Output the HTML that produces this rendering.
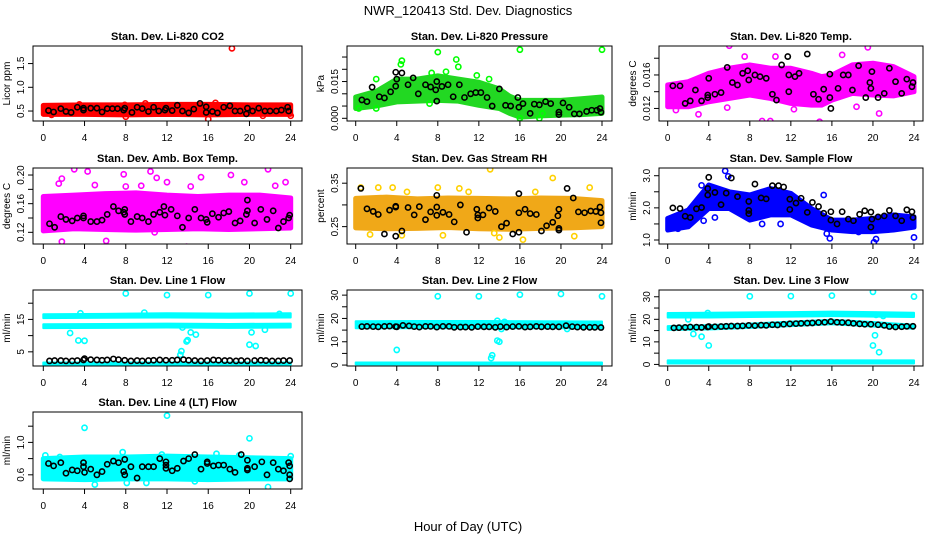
<!DOCTYPE html>
<html><head><meta charset="utf-8"><style>
html,body{margin:0;padding:0;background:#fff;}
svg{display:block;font-family:"Liberation Sans",Arial,sans-serif;}
</style></head><body>
<svg id="chart" width="936" height="540" viewBox="0 0 936 540" xmlns="http://www.w3.org/2000/svg">
<rect width="936" height="540" fill="#fff"/>
<text x="468" y="15" text-anchor="middle" font-size="13">NWR_120413 Std. Dev. Diagnostics</text>
<text x="468" y="531" text-anchor="middle" font-size="13">Hour of Day (UTC)</text>
</svg>
<script>
// ---- data arrays (hour, value) ----
const xTicks = [0,4,8,12,16,20,24];

const co2BandHours = [0,4,8,12,16,20,24];
const co2BandLo = [0.43,0.43,0.42,0.43,0.42,0.43,0.43];
const co2BandHi = [0.62,0.63,0.63,0.64,0.64,0.63,0.63];
const co2Extra = [[18.3,1.82],[16,0.33],[24,0.4],[9.9,0.66],[16.7,0.67],[3.5,0.64],[7.9,0.63],[8,0.38],[21.3,0.4],[0.8,0.42]];
const co2Black = [[0.5,0.51],[1,0.48],[1.7,0.55],[2.2,0.49],[2.7,0.47],[3.3,0.58],[3.9,0.56],[3.9,0.52],[4.6,0.56],[5.2,0.56],[5.7,0.48],[6.2,0.55],[6.7,0.55],[7.2,0.55],[7.8,0.52],[7.9,0.56],[8.6,0.47],[9.1,0.58],[9.6,0.55],[10.2,0.49],[10.7,0.58],[11.2,0.5],[11.8,0.52],[11.9,0.56],[12.5,0.51],[13,0.62],[13.5,0.5],[14.1,0.46],[14.6,0.54],[15.2,0.66],[15.8,0.59],[15.8,0.47],[16.4,0.49],[16.9,0.46],[17.5,0.58],[18.1,0.61],[18.6,0.5],[19.1,0.5],[19.7,0.44],[19.8,0.56],[20.3,0.5],[20.9,0.56],[21.5,0.5],[22,0.5],[22.6,0.5],[23.1,0.52],[23.7,0.58],[23.8,0.5]];

const presBandHours = [0,2,4,6,8,10,12,14,15,16,18,20,22,24];
const presBandLo = [0.004,0.005,0.0067,0.007,0.0073,0.007,0.0053,0.004,0.002,0.0005,0.001,0.0013,0.0015,0.002];
const presBandHi = [0.0087,0.011,0.016,0.016,0.0173,0.016,0.0147,0.012,0.009,0.0073,0.0073,0.0073,0.008,0.0087];
const presExtra = [[8,0.027],[16,0.028],[24,0.028],[4.5,0.0235],[9.8,0.024],[10,0.021],[4.4,0.022],[8.8,0.019],[7.4,0.0185],[11.8,0.0175],[2,0.016],[13,0.016],[2,0.004],[7.2,0.006],[16,0],[17.9,0],[18.2,0.002],[0.3,0.004]];
const presBlack = [[0.6,0.0075],[1.1,0.0068],[1.6,0.0127],[2.3,0.0088],[2.8,0.0083],[3.4,0.0108],[3.9,0.0131],[3.9,0.0188],[4.0,0.016],[4.5,0.0185],[5.1,0.0137],[5.6,0.0165],[6.1,0.01],[6.8,0.0137],[7.3,0.0128],[7.8,0.0116],[7.9,0.015],[7.9,0.007],[8.4,0.013],[9.0,0.0137],[9.5,0.0088],[10.1,0.0137],[10.6,0.0085],[11.2,0.01],[11.7,0.0105],[12.2,0.0105],[12.8,0.0085],[13.3,0.005],[14,0.012],[14.6,0.0053],[15.1,0.005],[15.8,0.0085],[15.9,0.0045],[16.3,0.006],[17,0.002],[17.4,0.0058],[17.9,0.0055],[18.5,0.0068],[19,0.006],[19.8,0.0025],[19.8,0.0015],[20.2,0.0063],[20.8,0.0045],[21.3,0.0018],[21.8,0.0018],[22.5,0.0028],[23,0.0033],[23.5,0.0033],[23.8,0.004],[23.9,0.0025]];

const tempBandHours = [0,2,4,6,8,10,12,14,15,16,18,20,22,24];
const tempBandLo = [0.0122,0.0122,0.0128,0.0132,0.0136,0.0132,0.0126,0.0124,0.0124,0.013,0.0138,0.0136,0.0135,0.014];
const tempBandHi = [0.0148,0.0152,0.0162,0.0168,0.0172,0.0168,0.0168,0.0162,0.0158,0.016,0.0172,0.0174,0.017,0.0158];
const tempExtra = [[6,0.0195],[19.5,0.0193],[9.2,0.0105],[10,0.0105],[14.8,0.0104],[20.6,0.0114],[5.8,0.0121],[3,0.0113],[10.5,0.0182],[7.5,0.0182],[17,0.0184],[0.8,0.0118],[12.3,0.0119],[18.4,0.0122]];
const tempBlack = [[0.5,0.0147],[1.2,0.0147],[1.7,0.0126],[2.2,0.0129],[2.7,0.0142],[3.3,0.0129],[3.9,0.0133],[3.9,0.0136],[4.0,0.0156],[4.6,0.0137],[5.2,0.0139],[5.8,0.0169],[6.3,0.0151],[6.8,0.0148],[7.3,0.0162],[7.8,0.0165],[7.9,0.0154],[8.5,0.016],[9,0.0158],[9.6,0.0156],[10.2,0.0137],[10.6,0.013],[11.1,0.0172],[11.7,0.0182],[11.8,0.016],[11.8,0.014],[12.4,0.0158],[12.8,0.0162],[13.6,0.0185],[14.2,0.0137],[14.7,0.0131],[15.2,0.0143],[15.8,0.0133],[15.8,0.0161],[15.9,0.012],[16.6,0.0144],[17.1,0.016],[17.6,0.016],[18,0.0142],[18.6,0.0171],[19.3,0.0133],[19.7,0.0151],[19.8,0.0144],[19.9,0.0164],[20.5,0.0133],[21.1,0.0138],[21.6,0.0168],[22.2,0.0152],[22.8,0.0138],[23.3,0.0155],[23.8,0.0146],[23.9,0.0151]];

const ambBandHours = [0,3,6,9,12,15,18,21,24];
const ambBandLo = [0.122,0.125,0.124,0.123,0.124,0.125,0.124,0.125,0.126];
const ambBandHi = [0.17,0.172,0.174,0.175,0.172,0.17,0.172,0.172,0.168];
const ambExtra = [[3,0.208],[4.3,0.205],[7.8,0.201],[10.4,0.205],[11,0.196],[15.3,0.197],[21.8,0.208],[18.2,0.2],[1.8,0.195],[13.9,0.1],[1.8,0.107],[6.1,0.108],[10.8,0.12],[17.9,0.128],[23.5,0.19],[8,0.184],[12,0.19],[1.5,0.188],[5,0.186],[9.5,0.185],[14.3,0.184],[19.5,0.19],[22.5,0.185]];
const ambBlack = [[0.6,0.132],[1.1,0.127],[1.7,0.142],[2.2,0.138],[2.8,0.136],[3.3,0.14],[3.9,0.143],[3.9,0.14],[4.6,0.135],[5.2,0.135],[5.7,0.137],[6.2,0.145],[6.8,0.156],[7.3,0.15],[7.8,0.148],[7.9,0.152],[7.9,0.145],[8.5,0.135],[9.1,0.142],[9.6,0.14],[10.2,0.135],[10.7,0.145],[11.3,0.148],[11.7,0.156],[11.8,0.144],[12.4,0.152],[13,0.143],[13.5,0.127],[14.1,0.14],[14.7,0.152],[15.3,0.14],[15.8,0.138],[15.9,0.134],[16.4,0.146],[17,0.141],[17.5,0.147],[18,0.149],[18.6,0.133],[19.1,0.136],[19.8,0.165],[19.8,0.15],[19.7,0.145],[20.5,0.133],[21.1,0.152],[21.7,0.138],[22.3,0.15],[22.8,0.126],[23.3,0.135],[23.8,0.14],[23.9,0.144]];

const rhBandHours = [0,3,6,9,12,15,18,21,24];
const rhBandLo = [0.247,0.245,0.246,0.248,0.245,0.244,0.246,0.247,0.25];
const rhBandHi = [0.315,0.318,0.314,0.316,0.315,0.314,0.316,0.315,0.31];
const rhExtra = [[13.1,0.382],[19.2,0.362],[0.5,0.34],[2.2,0.34],[8,0.34],[10.1,0.338],[3.6,0.34],[22.8,0.34],[1.4,0.232],[4.5,0.23],[8.5,0.23],[13.5,0.235],[16.3,0.22],[21.3,0.228],[14,0.225],[5,0.33],[11,0.33],[17.5,0.33]];
const rhBlack = [[0.5,0.338],[1.1,0.291],[1.7,0.285],[2.2,0.278],[2.8,0.233],[3.3,0.288],[3.9,0.297],[3.9,0.295],[3.9,0.228],[4.5,0.24],[5.1,0.294],[5.7,0.277],[6.2,0.296],[6.8,0.266],[7.3,0.284],[7.9,0.295],[7.9,0.322],[7.9,0.276],[8.5,0.283],[9.1,0.278],[9.6,0.261],[10.2,0.3],[10.8,0.237],[11.8,0.29],[11.9,0.27],[11.9,0.277],[12.4,0.277],[13,0.293],[13.6,0.285],[14.2,0.25],[14.7,0.258],[15.3,0.233],[15.9,0.282],[15.9,0.237],[15.9,0.326],[16.5,0.29],[17,0.28],[17.6,0.278],[18.1,0.24],[18.6,0.252],[19.2,0.26],[19.7,0.275],[19.8,0.29],[19.8,0.246],[19.8,0.242],[20.6,0.338],[21.2,0.316],[21.7,0.284],[22.3,0.282],[22.9,0.286],[23.4,0.285],[23.8,0.295],[23.9,0.282],[23.9,0.259]];

const flowBandHours = [0,2,4,6,8,10,12,14,16,18,20,22,24];
const flowBandLo = [1.31,1.41,1.98,1.98,1.62,1.78,1.78,1.47,1.31,1.26,1.26,1.31,1.4];
const flowBandHi = [1.67,1.93,2.71,2.5,2.4,2.6,2.45,1.98,1.62,1.62,1.67,1.78,1.72];
const flowExtra = [[5.6,3.15],[5.9,2.98],[20.1,0.93],[20.3,1.03],[24,1.08],[15.8,1.05],[15.5,1.2],[3.5,1.6],[15.2,2.4],[3.3,2.7],[9.2,1.5],[1,1.35],[18.6,1.25],[4.6,1.7],[11,1.5]];
const flowBlack = [[0.5,2],[1.2,1.98],[1.7,1.74],[2.2,1.7],[2.8,1.97],[3.3,2.01],[3.9,2.6],[3.9,2.4],[4,2.95],[4.6,2.48],[5.2,2.1],[5.7,2.46],[6.2,2.93],[6.8,2.35],[7.9,2.2],[7.9,1.92],[7.9,1.82],[8.5,2.74],[9.1,2.31],[9.6,2.28],[10.2,2.69],[10.8,2.69],[11.3,2.65],[11.9,2.27],[11.9,1.95],[12.5,2.15],[13,2.3],[13.6,1.86],[14.1,2.17],[14.7,2.04],[15.2,1.83],[15.9,1.88],[15.9,1.62],[16.5,1.5],[17,1.88],[17.6,1.65],[18.1,1.6],[18.7,1.8],[19.2,1.91],[19.8,1.87],[19.8,1.4],[19.9,1.65],[20.5,1.72],[21.1,1.75],[21.6,1.92],[22.2,1.75],[22.8,1.6],[23.3,1.94],[23.8,1.88],[23.9,1.7]];

const lineHours = [0.6,1.1,1.7,2.2,2.8,3.3,3.9,4.0,4.6,5.2,5.7,6.2,6.8,7.3,7.9,8.5,9.1,9.6,10.2,10.7,11.3,11.9,12.5,13,13.6,14.1,14.7,15.3,15.9,16.5,17,17.6,18.1,18.7,19.2,19.8,20.5,21.1,21.6,22.2,22.8,23.3,23.9];

const l1BandHours = [0,6,12,18,24];
const l1UpLo = [15.4,15.5,15.6,15.5,15.6];
const l1UpHi = [16.6,16.7,16.9,16.8,16.9];
const l1MidLo = [12.3,12.4,12.5,12.4,12.5];
const l1MidHi = [13.5,13.6,13.7,13.6,13.7];
const l1LowLo = [1.0,1.0,1.0,1.0,1.0];
const l1LowHi = [1.7,1.7,1.7,1.7,1.7];
const l1Extra = [[8,23],[12,22.5],[16,22.5],[20,23],[24,23],[3.6,16.9],[4.0,8.4],[3.4,8.5],[2.6,10.8],[9.8,17.1],[13.4,5.2],[13.3,4.1],[13.9,8.2],[14,8.6],[14.3,11],[14.8,10.3],[20,7.2],[20.6,6.8],[20.2,11],[13.5,12.5],[21.5,11.8],[22.9,16.7]];
const l1BlackVals = [2.2,2.3,2.3,2.2,2.2,2.3,2.5,2.9,2.6,2.5,2.4,2.5,2.8,2.6,2.4,2.2,2.3,2.2,2.3,2.4,2.5,2.4,2.4,2.5,2.6,2.4,2.3,2.2,2.3,2.5,2.4,2.3,2.3,2.2,2.3,2.2,2.3,2.4,2.3,2.2,2.2,2.3,2.3];

const l2BandHours = [0,6,12,18,24];
const l2UpLo = [15.8,15.8,15.8,15.8,15.8];
const l2UpHi = [18.8,18.9,18.9,18.8,18.7];
const l2LowLo = [0.3,0.3,0.3,0.3,0.3];
const l2LowHi = [1.1,1.1,1.1,1.1,1.1];
const l2Extra = [[8,29.5],[12,29.5],[16,30.2],[20,30.5],[24,29.5],[4,6.5],[13.3,4.2],[13.2,3],[13.8,10.5],[14,10],[13.8,19],[14.2,15.5],[20.6,15.5],[14.5,18.5]];
const l2BlackVals = [16.5,16.6,16.5,16.4,16.6,16.7,16.5,16.4,17,16.8,16.5,16.3,16.6,16.6,16.3,16.6,16.6,16.2,16.3,16.3,16.2,16.5,16.4,16.4,16.2,16.5,16.3,16.5,16.6,16.3,16.4,16.6,16.4,16.5,16.4,16.4,16.9,16.5,16.3,16.2,16.2,16.2,16.1];

const l3BandHours = [0,4,8,12,16,20,24];
const l3UpLo = [20.8,20.8,21,21.2,21.4,21.2,21];
const l3UpHi = [22.8,22.9,23.1,23.2,23.4,23.2,22.9];
const l3MidLo = [15.3,15.5,16.2,17.0,17.8,16.8,15.8];
const l3MidHi = [17.0,17.4,18.1,19.0,19.8,18.8,17.6];
const l3LowLo = [0.4,0.4,0.4,0.4,0.4,0.4,0.4];
const l3LowHi = [1.8,1.8,1.8,1.8,1.8,1.8,1.8];
const l3Extra = [[8,30.2],[12,30.3],[16,30.5],[20,32.2],[24,30.1],[2.5,13.5],[3.3,12.3],[4,8.4],[3.9,22.8],[20,8.4],[20.2,12.9],[20.6,5.4],[20.3,22],[21,21.5],[2,20]];
const l3BlackVals = [16.2,16.3,16.4,16.6,16.5,16.4,16.6,16.8,16.7,16.8,16.9,17,17,17.1,17.3,17.2,17.4,17.3,17.6,17.5,17.8,18,18.1,18.2,18.3,18.4,18.6,18.7,19,18.7,18.6,18.5,18.2,18,17.8,17.8,17.6,17.3,16.8,16.6,16.7,16.9,16.9];

const l4BandHours = [0,4,8,12,16,20,24];
const l4BandLo = [0.55,0.54,0.55,0.55,0.54,0.55,0.55];
const l4BandHi = [0.8,0.82,0.82,0.83,0.82,0.81,0.8];
const l4Extra = [[12,1.33],[4,1.18],[20,1.05],[7.7,0.88],[16.8,0.86],[21.8,0.45],[8.1,0.5],[14.7,0.52],[1.6,0.82],[0.2,0.84],[24,0.83],[11.5,0.85],[19,0.84],[5,0.48],[10,0.5]];
const l4Black = [[0.5,0.74],[1,0.71],[1.7,0.75],[2.2,0.62],[2.8,0.66],[3.3,0.65],[3.9,0.75],[3.9,0.7],[4,0.63],[4.6,0.67],[5.2,0.6],[5.7,0.64],[6.2,0.73],[6.8,0.77],[7.3,0.75],[7.8,0.64],[7.9,0.6],[7.9,0.79],[8.5,0.7],[9.1,0.56],[9.6,0.7],[10.2,0.7],[10.7,0.7],[11.3,0.8],[11.9,0.76],[11.9,0.68],[11.9,0.72],[12.5,0.65],[13,0.68],[13.6,0.77],[14.1,0.8],[14.7,0.85],[15.3,0.67],[15.9,0.76],[15.9,0.74],[16.5,0.71],[17,0.72],[17.5,0.72],[18.1,0.67],[18.6,0.63],[19.2,0.85],[19.8,0.78],[19.8,0.68],[19.8,0.66],[20.5,0.7],[21.2,0.76],[21.7,0.6],[22.3,0.75],[22.8,0.67],[23.3,0.65],[23.8,0.75],[23.9,0.6],[23.9,0.55],[23.9,0.71]];

// ---- layout ----
const colL=[33,347,659], colR=[302,612,923], colX0=[43.3,355.7,667.7], colX24=[290.7,602,914];
const rowT=[46,168,290,412], rowB=[121,244,366,489];
const NS='http://www.w3.org/2000/svg';
const svg=document.getElementById('chart');
function mk(tag,attrs,parent){const e=document.createElementNS(NS,tag);for(const k in attrs)e.setAttribute(k,attrs[k]);(parent||svg).appendChild(e);return e;}
function pairs(hours,vals){return hours.map((h,i)=>[h,vals[i]]);}

const panels=[
 {c:0,r:0,title:'Stan. Dev. Li-820 CO2',ylab:'Licor ppm',ymin:0.29,ymax:1.87,ticks:[0.5,1,1.5],labs:{0.5:'0.5',1:'1.0',1.5:'1.5'},col:'#ff0000',band:'#ff0000',sw:5,bands:[[co2BandHours,co2BandLo,co2BandHi]],extra:co2Extra,black:co2Black},
 {c:1,r:0,title:'Stan. Dev. Li-820 Pressure',ylab:'kPa',ymin:-0.0011,ymax:0.0295,ticks:[0,0.005,0.01,0.015,0.02,0.025],labs:{0:'0.000',0.015:'0.015'},col:'#00ff00',band:'#22d822',sw:5,bands:[[presBandHours,presBandLo,presBandHi]],extra:presExtra,black:presBlack},
 {c:2,r:0,title:'Stan. Dev. Li-820 Temp.',ylab:'degrees C',ymin:0.0105,ymax:0.01946,ticks:[0.012,0.014,0.016,0.018],labs:{0.012:'0.012',0.016:'0.016'},col:'#ff00ff',band:'#ff00ff',sw:5,bands:[[tempBandHours,tempBandLo,tempBandHi]],extra:tempExtra,black:tempBlack},
 {c:0,r:1,title:'Stan. Dev. Amb. Box Temp.',ylab:'degrees C',ymin:0.1037,ymax:0.2098,ticks:[0.12,0.14,0.16,0.18,0.2],labs:{0.12:'0.12',0.16:'0.16',0.2:'0.20'},col:'#ff00ff',band:'#ff00ff',sw:5,bands:[[ambBandHours,ambBandLo,ambBandHi]],extra:ambExtra,black:ambBlack},
 {c:1,r:1,title:'Stan. Dev. Gas Stream RH',ylab:'percent',ymin:0.21,ymax:0.385,ticks:[0.25,0.3,0.35],labs:{0.25:'0.25',0.35:'0.35'},col:'#ffd000',band:'#f0a818',sw:5,bands:[[rhBandHours,rhBandLo,rhBandHi]],extra:rhExtra,black:rhBlack},
 {c:2,r:1,title:'Stan. Dev. Sample Flow',ylab:'ml/min',ymin:0.876,ymax:3.24,ticks:[1,1.5,2,2.5,3],labs:{1:'1.0',2:'2.0',3:'3.0'},col:'#0000ff',band:'#0000ff',sw:5,bands:[[flowBandHours,flowBandLo,flowBandHi]],extra:flowExtra,black:flowBlack},
 {c:0,r:2,title:'Stan. Dev. Line 1 Flow',ylab:'ml/min',ymin:0.63,ymax:24.07,ticks:[5,10,15,20],labs:{5:'5',15:'15'},col:'#00ffff',band:'#00ffff',sw:2,bands:[[l1BandHours,l1UpLo,l1UpHi],[l1BandHours,l1MidLo,l1MidHi],[l1BandHours,l1LowLo,l1LowHi]],extra:l1Extra,black:pairs(lineHours,l1BlackVals)},
 {c:1,r:2,title:'Stan. Dev. Line 2 Flow',ylab:'ml/min',ymin:-0.4,ymax:32.2,ticks:[0,5,10,15,20,25,30],labs:{0:'0',10:'10',20:'20',30:'30'},col:'#00ffff',band:'#00ffff',sw:2,bands:[[l2BandHours,l2UpLo,l2UpHi],[l2BandHours,l2LowLo,l2LowHi]],extra:l2Extra,black:pairs(lineHours,l2BlackVals)},
 {c:2,r:2,title:'Stan. Dev. Line 3 Flow',ylab:'ml/min',ymin:-0.7,ymax:33,ticks:[0,5,10,15,20,25,30],labs:{0:'0',10:'10',20:'20',30:'30'},col:'#00ffff',band:'#00ffff',sw:2,bands:[[l3BandHours,l3UpLo,l3UpHi],[l3BandHours,l3MidLo,l3MidHi],[l3BandHours,l3LowLo,l3LowHi]],extra:l3Extra,black:pairs(lineHours,l3BlackVals)},
 {c:0,r:3,title:'Stan. Dev. Line 4 (LT) Flow',ylab:'ml/min',ymin:0.425,ymax:1.375,ticks:[0.6,0.8,1,1.2],labs:{0.6:'0.6',1:'1.0'},col:'#00ffff',band:'#00ffff',sw:5,bands:[[l4BandHours,l4BandLo,l4BandHi]],extra:l4Extra,black:l4Black}
];

panels.forEach(p=>{
  const L=colL[p.c],R=colR[p.c],T=rowT[p.r],B=rowB[p.r];
  const xs=h=>colX0[p.c]+(colX24[p.c]-colX0[p.c])*h/24;
  const ys=v=>B-(v-p.ymin)/(p.ymax-p.ymin)*(B-T);
  const g=mk('g',{});
  
  
  const t=mk('text',{x:(L+R)/2,y:T-6,'text-anchor':'middle','font-size':'11','font-weight':'bold'},g);
  t.textContent=p.title;
  
  
  const clip='clip'+p.c+p.r;
  const cp=mk('clipPath',{id:clip},g); mk('rect',{x:L,y:T,width:R-L,height:B-T},cp);
  const plot=mk('g',{'clip-path':'url(#'+clip+')'},g);
  p.bands.forEach(b=>{
    const [hs,lo,hi]=b;
    let pts=hs.map((h,i)=>xs(h)+','+ys(hi[i]));
    pts=pts.concat(hs.slice().reverse().map((h,i)=>xs(h)+','+ys(lo[hs.length-1-i])));
    const poly=mk('polygon',{points:pts.join(' '),fill:p.band,stroke:p.band,'stroke-width':p.sw,'stroke-linejoin':'round'},plot);
    
    
  });
  p.extra.forEach(d=>{
    const c=mk('circle',{cx:xs(d[0]),cy:ys(d[1]),r:2.6,fill:'none',stroke:p.col,'stroke-width':1.6},plot);
    
    
  });
  p.black.forEach(d=>{
    const c=mk('circle',{cx:xs(d[0]),cy:ys(d[1]),r:2.6,fill:'none',stroke:'#000','stroke-width':1.6},plot);
    
    
  });
  const box=mk('rect',{x:L,y:T,width:R-L,height:B-T,fill:'none',stroke:'#000','stroke-width':1},g);
  
  
  mk('line',{x1:xs(0),x2:xs(24),y1:B,y2:B,stroke:'#000'},g);
  xTicks.forEach(h=>{
    mk('line',{x1:xs(h),x2:xs(h),y1:B,y2:B+5,stroke:'#000'},g);
    const tl=mk('text',{x:xs(h),y:B+20,'text-anchor':'middle','font-size':'10'},g);
    tl.textContent=h;
    
    
  });
  mk('line',{x1:L,x2:L,y1:ys(p.ticks[0]),y2:ys(p.ticks[p.ticks.length-1]),stroke:'#000'},g);
  p.ticks.forEach(v=>{
    const y=ys(v);
    mk('line',{x1:L-5,x2:L,y1:y,y2:y,stroke:'#000'},g);
    if(p.labs[v]!==undefined){
      const tl=mk('text',{x:L-9,y:y,'text-anchor':'middle','font-size':'10',transform:'rotate(-90 '+(L-9)+' '+y+')'},g);
      tl.textContent=p.labs[v];
      
      
    }
  });
  const yl=mk('text',{x:L-23,y:(T+B)/2,'text-anchor':'middle','font-size':'10',transform:'rotate(-90 '+(L-23)+' '+((T+B)/2)+')'},g);
  yl.textContent=p.ylab;
  
  
});
</script>
</body></html>
